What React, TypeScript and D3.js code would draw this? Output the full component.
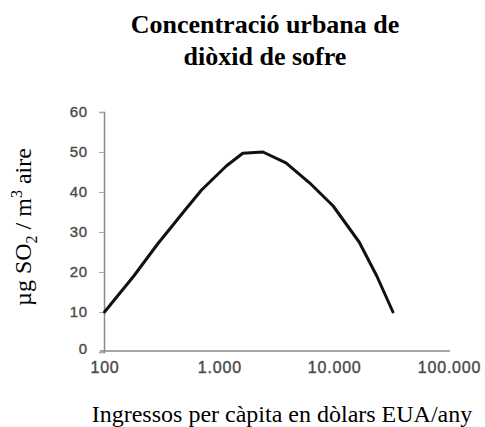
import React, { useRef, useEffect } from "react";
import * as d3 from "d3";

// income per capita (US$/year) and urban SO2 concentration
const income = [100, 180, 290, 520, 700, 1150, 1600, 2400, 3800, 6100, 9800, 16500, 23500, 32500];
const so2 = [10, 19, 27, 36, 40.5, 46.5, 49.7, 50, 47.3, 42.3, 36.5, 27.5, 19, 10];

const xTicks = [100, 1000, 10000, 100000];
const yTicks = [0, 10, 20, 30, 40, 50, 60];

const titleLines = ["Concentració urbana de", "diòxid de sofre"];
const xTitle = "Ingressos per càpita en dòlars EUA/any";

const serif = "'Liberation Serif', 'Times New Roman', serif";
const sans = "'Liberation Sans', Arial, sans-serif";

export default function App() {
  const ref = useRef<SVGSVGElement>(null);

  useEffect(() => {
    const svg = d3.select(ref.current);
    svg.selectAll("*").remove();

    const x = d3.scaleLog().domain([100, 100000]).range([104.5, 449]);
    const y = d3.scaleLinear().domain([0, 60]).range([352, 112]);

    const fmt = d3
      .formatLocale({ decimal: ",", thousands: ".", grouping: [3], currency: ["", "€"] })
      .format(",");

    // title
    svg
      .append("text")
      .attr("text-anchor", "middle")
      .style("font-family", serif)
      .style("font-weight", "bold")
      .style("font-size", "26px")
      .selectAll("tspan")
      .data(titleLines)
      .enter()
      .append("tspan")
      .attr("x", 265)
      .attr("y", (d, i) => 33 + i * 32)
      .text((d) => d);

    // y axis
    const yAxis = svg
      .append("g")
      .attr("transform", `translate(${x(100) - 0.5},0)`)
      .call(
        d3
          .axisLeft(y)
          .tickValues(yTicks)
          .tickSizeInner(5)
          .tickSizeOuter(5)
          .tickPadding(11)
      );
    yAxis.select(".domain").attr("stroke", "#8a8a8a").attr("stroke-width", 1.5);
    yAxis.selectAll(".tick line").attr("stroke", "#aaa").attr("stroke-width", 1);
    yAxis
      .selectAll("text")
      .style("font-family", sans)
      .style("font-size", "15px")
      .style("letter-spacing", "0.8px")
      .attr("fill", "#444")
      .attr("stroke", "#555")
      .attr("stroke-width", 0.4)
      .attr("y", (d) => (d === 0 ? -3 : 0));

    // x axis
    const xAxis = svg
      .append("g")
      .attr("transform", `translate(0,${y(0) - 1})`)
      .call(
        d3
          .axisBottom(x)
          .tickValues(xTicks)
          .tickFormat((d) => fmt(d as number))
          .tickSize(0)
          .tickPadding(11)
      );
    xAxis.select(".domain").remove();
    xAxis
      .append("line")
      .attr("x1", 100)
      .attr("x2", 450)
      .attr("stroke", "#8a8a8a")
      .attr("stroke-width", 1.5);
    xAxis
      .selectAll("text")
      .style("font-family", sans)
      .style("font-size", "16px")
      .style("letter-spacing", "0.8px")
      .attr("fill", "#444")
      .attr("stroke", "#555")
      .attr("stroke-width", 0.4);

    // curve
    const line = d3
      .line<number>()
      .x((d, i) => x(income[i]))
      .y((d) => y(d));
    svg
      .append("path")
      .datum(so2)
      .attr("d", line)
      .attr("fill", "none")
      .attr("stroke", "#111")
      .attr("stroke-width", 3)
      .attr("stroke-linejoin", "round")
      .attr("stroke-linecap", "round");

    // x title
    svg
      .append("text")
      .attr("x", 282)
      .attr("y", 422)
      .attr("text-anchor", "middle")
      .style("font-family", serif)
      .style("font-size", "24px")
      .text(xTitle);

    // y title with sub/superscript
    const yt = svg
      .append("text")
      .attr("transform", "translate(31,227) rotate(-90)")
      .attr("text-anchor", "middle")
      .style("font-family", serif)
      .style("font-size", "24px");
    yt.append("tspan").text("µg SO");
    yt.append("tspan").attr("dy", 6).style("font-size", "16px").text("2");
    yt.append("tspan").attr("dy", -6).text(" / m");
    yt.append("tspan").attr("dy", -9).style("font-size", "16px").text("3");
    yt.append("tspan").attr("dy", 9).text(" aire");
  }, []);

  return (
    <svg
      ref={ref}
      width={485}
      height={427}
      style={{ position: "absolute", left: 0, top: 0, background: "#fff" }}
    ></svg>
  );
}
